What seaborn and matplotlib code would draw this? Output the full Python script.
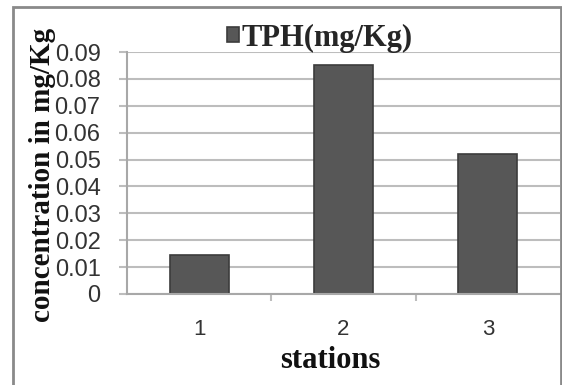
import matplotlib
matplotlib.use("Agg")
import matplotlib.pyplot as plt
import seaborn as sns
import pandas as pd
from matplotlib.patches import Rectangle
from matplotlib.ticker import FixedLocator

stations = ["1", "2", "3"]
tph = [0.0145, 0.085, 0.052]
series_label = "TPH(mg/Kg)"
y_ticks = [0, 0.01, 0.02, 0.03, 0.04, 0.05, 0.06, 0.07, 0.08, 0.09]

df = pd.DataFrame({"station": stations, "tph": tph})

sns.set_theme(style="white")
plt.rcParams["font.family"] = ["Liberation Sans", "DejaVu Sans"]

W, H = 562, 385
fig = plt.figure(figsize=(W / 100, H / 100), dpi=100)
ax = fig.add_axes([127 / W, 1 - 294 / H, 433 / W, (294 - 52) / H])

sns.barplot(data=df, x="station", y="tph", ax=ax, color="#575757",
            width=0.41, saturation=1, edgecolor="#3c3c3c", linewidth=1.2,
            label=series_label)

ax.set_xlim(-0.5, 2.5)
ax.set_ylim(0, 0.09)
ax.set_yticks(y_ticks)
ax.set_yticklabels(["0"] + [f"{v:.2f}" for v in y_ticks[1:]])
ax.yaxis.grid(True, color="#bdbdbd", linewidth=1.5)
ax.set_axisbelow(True)

for s in ["top", "right"]:
    ax.spines[s].set_visible(False)
for s in ["left", "bottom"]:
    ax.spines[s].set_color("#a8a8a8")
    ax.spines[s].set_linewidth(1.5)

ax.tick_params(axis="y", length=6, width=1.5, color="#bdbdbd", direction="out",
               pad=13, labelsize=17, labelcolor="#333333", left=True)
ax.tick_params(axis="x", which="major", length=0, pad=18, labelsize=16,
               labelcolor="#333333")
ax.xaxis.set_minor_locator(FixedLocator([0.5, 1.5]))
ax.tick_params(axis="x", which="minor", length=5, width=1.5, color="#bdbdbd",
               direction="out", bottom=True)

ax.set_xlabel("stations", fontfamily="Liberation Serif", fontweight="bold",
              fontsize=22, color="#111111")
ax.xaxis.set_label_coords(0.469, -0.275)
ax.xaxis.label.set_va("center")
ax.set_ylabel("concentration in mg/Kg", fontfamily="Liberation Serif",
              fontweight="bold", fontsize=21, color="#111111")
ax.yaxis.set_label_coords(-0.194, 0.49)
ax.yaxis.label.set_va("center")

leg = ax.legend(loc="center", bbox_to_anchor=(0.569, 0.901),
                bbox_transform=fig.transFigure, frameon=False,
                prop={"family": "Liberation Serif", "weight": "bold", "size": 22},
                handlelength=0.4, handleheight=0.4, handletextpad=0.1,
                borderpad=0)

fig.patches.append(Rectangle((13 / W, -0.05), (561 - 13) / W, 1.05 - 7 / H,
                             transform=fig.transFigure, fill=False,
                             edgecolor="#8a8a8a", linewidth=2))

fig.savefig("out.png", dpi=100)
